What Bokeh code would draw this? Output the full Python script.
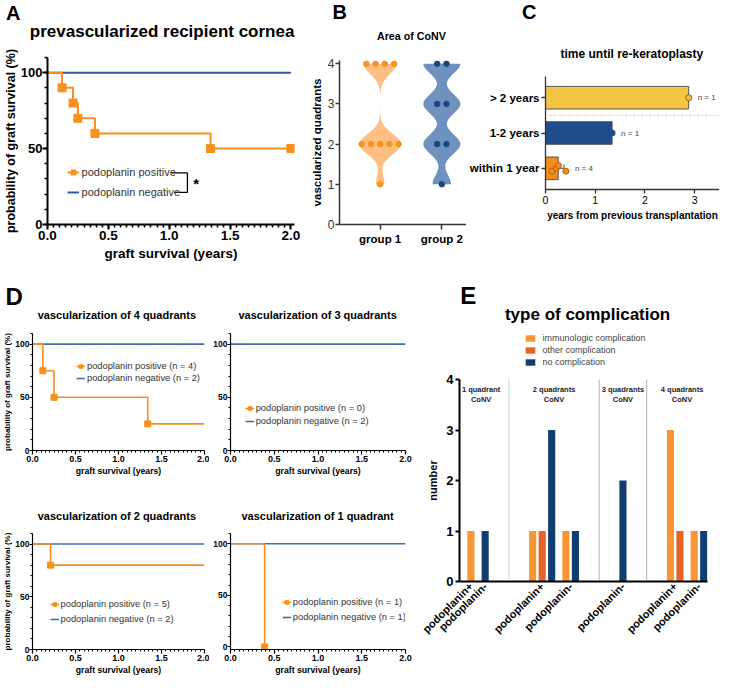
import numpy as np
from bokeh.plotting import figure
from bokeh.models import (Range1d, Label, Legend, LegendItem, Span, FixedTicker,
                          SingleIntervalTicker, ColumnDataSource, Whisker, TeeHead,
                          PrintfTickFormatter)
from bokeh.layouts import row, column
from bokeh.embed import file_html
from bokeh.resources import INLINE
from bokeh.core.properties import value

FONT = "Liberation Sans"
NAN = float("nan")

# ---------------- data ----------------
A_title = "prevascularized recipient cornea"
A_series = ["podoplanin positive", "podoplanin negative"]
A_pos_time = [0.0, 0.12, 0.21, 0.25, 0.39, 1.34, 2.0]
A_pos_surv = [100, 90, 80, 70, 60, 50, 50]
A_pos_censor = [2.0]
A_neg_time = [0.0, 2.0]
A_neg_surv = [100, 100]

B_title = "Area of CoNV"
B_groups = ["group 1", "group 2"]
B_group1 = [4, 4, 4, 4, 2, 2, 2, 2, 2, 1]
B_group2 = [4, 4, 3, 3, 2, 2, 1]

C_title = "time until re-keratoplasty"
C_categories = ["within 1 year", "1-2 years", "> 2 years"]
C_within_1_year = [0.13, 0.22, 0.26, 0.41]
C_1_to_2_years = [1.34]
C_over_2_years = [2.88]

D_titles = ["vascularization of 4 quadrants", "vascularization of 3 quadrants",
            "vascularization of 2 quadrants", "vascularization of 1 quadrant"]
D_pos_time = [[0.0, 0.12, 0.25, 1.34, 2.0], [], [0.0, 0.21, 2.0], [0.0, 0.39]]
D_pos_surv = [[100, 75, 50, 25, 25], [], [100, 80, 80], [100, 0]]
D_neg_time = [[0.0, 2.0], [0.0, 2.0], [0.0, 2.0], [0.0, 2.0]]
D_neg_surv = [[100, 100], [100, 100], [100, 100], [100, 100]]
D_pos_n = [4, 0, 5, 1]
D_neg_n = [2, 2, 2, 1]

E_title = "type of complication"
E_series = ["immunologic complication", "other complication", "no complication"]
E_quadrants = ["1 quadrant\nCoNV", "2 quadrants\nCoNV", "3 quadrants\nCoNV", "4 quadrants\nCoNV"]
E_group_quadrant = [0, 0, 1, 1, 2, 3, 3]
E_group_label = ["podoplanin+", "podoplanin-", "podoplanin+", "podoplanin-",
                 "podoplanin-", "podoplanin+", "podoplanin-"]
E_immunologic = [1, 0, 1, 1, 0, 3, 1]
E_other = [0, 0, 1, 0, 0, 1, 0]
E_none = [0, 1, 3, 1, 2, 0, 1]

# ---------------- styles / helpers ----------------
ORANGE = "#F7901E"
BLUE_A = "#2C5AA0"
BLUE_D = "#3F6DB2"
SX = 719 / 735
SY = 677 / 693


def box(l, t, r, b, fl, ft, fr, fb):
    return dict(width=round(r * SX) - round(l * SX), height=round(b * SY) - round(t * SY),
                min_border_left=round(fl * SX) - round(l * SX),
                min_border_right=round(r * SX) - round(fr * SX),
                min_border_top=round(ft * SY) - round(t * SY),
                min_border_bottom=round(b * SY) - round(fb * SY))


def make_fig(xr, yr, geo):
    p = figure(x_range=xr, y_range=yr, output_backend="svg", toolbar_location=None, **geo)
    p.outline_line_color = None
    p.xgrid.visible = False
    p.ygrid.visible = False
    p.background_fill_color = "white"
    p.border_fill_color = "white"
    return p


def header(l, t, r, b):
    W = round(r * SX) - round(l * SX)
    H = round(b * SY) - round(t * SY)
    h = figure(width=W, height=H, x_range=Range1d(0, W), y_range=Range1d(H, 0),
               x_axis_location=None, y_axis_location=None, toolbar_location=None,
               output_backend="svg", min_border=0)
    h.outline_line_color = None
    h.grid.visible = False
    h.background_fill_color = "white"
    h.border_fill_color = "white"
    return h


def htext(h, ref, X, Y, text, size, bold=True, align="center", color="black"):
    l, t = ref
    h.add_layout(Label(x=(X - l) * SX, y=(Y - t) * SY, text=text, text_align=align,
                       text_baseline="middle", text_font=FONT, text_font_size=f"{size}px",
                       text_font_style="bold" if bold else "normal", text_color=color))


def style_axis(ax, lw, color, tick_out, minor_out, lab_size, lab_bold, title_size=None,
               standoff=2, title_standoff=3):
    ax.axis_line_width = lw
    ax.axis_line_color = color
    ax.major_tick_line_color = color
    ax.major_tick_line_width = lw
    ax.major_tick_in = 0
    ax.major_tick_out = tick_out
    ax.minor_tick_line_color = color if minor_out else None
    ax.minor_tick_line_width = max(1, lw * 0.8)
    ax.minor_tick_in = 0
    ax.minor_tick_out = minor_out
    ax.major_label_text_font = FONT
    ax.major_label_text_font_size = f"{lab_size}px"
    ax.major_label_text_font_style = "bold" if lab_bold else "normal"
    ax.major_label_text_color = "black"
    ax.major_label_standoff = standoff
    ax.axis_label_text_font = FONT
    ax.axis_label_text_font_style = "bold"
    ax.axis_label_text_color = "black"
    ax.axis_label_standoff = title_standoff
    if title_size:
        ax.axis_label_text_font_size = f"{title_size}px"


def frame_text(p, frame_lb, X, Y, text, size, bold=True, color="black"):
    fl, fb = frame_lb
    p.add_layout(Label(x=(X - fl) * SX, y=(fb - Y) * SY, x_units="screen", y_units="screen",
                       text=text, text_align="center", text_baseline="middle",
                       text_font=FONT, text_font_size=f"{size}px",
                       text_font_style="bold" if bold else "normal", text_color=color))


def legend_at(p, items, frame_lb, X, Ybottom, size, glyph_w, item_h, spacing, standoff,
              glyph_h=None, color="#333"):
    fl, fb = frame_lb
    lg = Legend(items=items, location=((X - fl) * SX, (fb - Ybottom) * SY),
                orientation="vertical", padding=0, margin=0, spacing=int(round(spacing)),
                glyph_width=int(glyph_w), glyph_height=int(glyph_h or item_h),
                label_height=int(item_h), label_standoff=int(standoff),
                label_text_font=FONT, label_text_font_size=f"{size}px",
                label_text_color=color, background_fill_alpha=0, border_line_alpha=0)
    p.add_layout(lg)
    return lg


def km_marks(times, surv, censor=()):
    mx, my = [], []
    for i in range(1, len(times)):
        if surv[i] != surv[i - 1]:
            mx.append(times[i]); my.append(surv[i])
    for c in censor:
        idx = max(i for i, t in enumerate(times) if t <= c)
        mx.append(c); my.append(surv[idx])
    return mx, my


def stack(h, p):
    # header wrapped on its own so that its frame is not aligned with the plot below
    return column(column(h), p)


# ---------------- panel A ----------------
hA = header(0, 0, 314, 46)
htext(hA, (0, 0), 13, 13, "A", 20)
htext(hA, (0, 0), 30, 32, A_title, 17, align="left")
frA = (45, 229)
fa = make_fig(Range1d(0, 2.03), Range1d(0, 110), box(0, 46, 314, 275, 45, 58, 301, 229))
style_axis(fa.xaxis[0], 2, "black", 5, 3, 13.5, True, 13.5, 1, 3)
style_axis(fa.yaxis[0], 2, "black", 5, 3, 13, True, 12.5, 0, 0)
fa.xaxis.ticker = SingleIntervalTicker(interval=0.5, num_minor_ticks=10)
fa.yaxis.ticker = SingleIntervalTicker(interval=50, num_minor_ticks=5)
fa.xaxis.formatter = PrintfTickFormatter(format="%.1f")
fa.xaxis.axis_label = "graft survival (years)"
fa.yaxis.axis_label = "probability of graft survival (%)"
rn = fa.line(A_neg_time, A_neg_surv, line_color=BLUE_A, line_width=2)
rp = fa.step(A_pos_time, A_pos_surv, mode="after", line_color=ORANGE, line_width=2)
mx, my = km_marks(A_pos_time, A_pos_surv, A_pos_censor)
rm = fa.scatter(mx, my, marker="square", size=8, fill_color=ORANGE, line_color=ORANGE)
legend_at(fa, [LegendItem(label=A_series[0], renderers=[rp, rm]),
               LegendItem(label=A_series[1], renderers=[rn])],
          frA, 65, 203, 11, 12, 14, 6, 3)
fa.line([1.02, 1.15, 1.15, 1.04], [34, 34, 21.2, 21.2], line_color="black", line_width=1.3)
frame_text(fa, frA, 197, 187, "*", 15)

# ---------------- panel B ----------------
hB = header(314, 0, 476, 54)
htext(hB, (314, 0), 347, 12, "B", 20)
htext(hB, (314, 0), 385, 36, B_title, 10.7, align="left")
frB = (347, 229)
fb_ = make_fig(Range1d(0.34, 2.4), Range1d(0, 4.08), box(314, 54, 476, 275, 347, 61, 476, 229))
style_axis(fb_.xaxis[0], 1.5, "#333", 5, 0, 11.5, True, None, 3, 3)
style_axis(fb_.yaxis[0], 1.5, "#333", 4, 0, 12, False, 11.5, 1, 2)
fb_.yaxis[0].major_label_text_color = "#333"
fb_.xaxis.ticker = FixedTicker(ticks=[1, 2])
fb_.xaxis.major_label_overrides = {1: B_groups[0], 2: B_groups[1]}
fb_.yaxis.ticker = FixedTicker(ticks=[0, 1, 2, 3, 4])
fb_.yaxis.axis_label = "vascularized quadrants"


def violin(vals, center, halfw, bw=0.25, n=120):
    v = np.array(vals, float)
    ys = np.linspace(v.min(), v.max(), n)
    d = np.exp(-0.5 * ((ys[:, None] - v[None, :]) / bw) ** 2).sum(1)
    d = d / d.max() * halfw
    return (list(np.concatenate([center - d, (center + d)[::-1]])),
            list(np.concatenate([ys, ys[::-1]])))


def dots(vals, center, step):
    xs, ys = [], []
    for v in sorted(set(vals), reverse=True):
        k = vals.count(v)
        for i in range(k):
            xs.append(center + (i - (k - 1) / 2) * step)
            ys.append(v)
    return xs, ys


for k, (vals, fill, dc, hw) in enumerate([(B_group1, "#FDBE82", "#F7931E", 0.34),
                                          (B_group2, "#6E91BE", "#17457E", 0.30)]):
    vx, vy = violin(vals, k + 1, hw)
    fb_.patch(vx, vy, fill_color=fill, line_color=None)
    dx, dy = dots(vals, k + 1, 0.15)
    fb_.scatter(dx, dy, size=5.5, fill_color=dc, line_color=dc)

# ---------------- panel C ----------------
hC = header(476, 0, 735, 70)
htext(hC, (476, 0), 540, 12, "C", 20)
htext(hC, (476, 0), 645, 55, C_title, 12)
frC = (554, 193)
fc = make_fig(Range1d(0, 3.5), Range1d(0.4, 3.6), box(476, 70, 735, 275, 554, 78, 735, 193))
style_axis(fc.xaxis[0], 1.3, "#333", 4, 0, 10.5, False, 10, 2, 3)
style_axis(fc.yaxis[0], 1.3, "#333", 4, 0, 11.5, True, None, 2, 3)
fc.xaxis.ticker = FixedTicker(ticks=[0, 1, 2, 3])
fc.yaxis.ticker = FixedTicker(ticks=[1, 2, 3])
fc.yaxis.major_label_overrides = {i + 1: c for i, c in enumerate(C_categories)}
fc.xaxis.axis_label = "years from previous transplantation"
C_vals = [C_within_1_year, C_1_to_2_years, C_over_2_years]
C_fill = ["#F58C1E", "#1F4C8A", "#F5C442"]
C_dot_line = ["#B85F12", "#1F4C8A", "#7A6420"]
means = [float(np.mean(v)) for v in C_vals]
fc.hbar(y=[1, 2, 3], left=0, right=means, height=0.64, fill_color=C_fill,
        line_color="#555", line_width=1)
fc.add_layout(Span(location=2.5, dimension="width", line_color="#F2C94C",
                   line_dash="2 2", line_width=1))
sd = float(np.std(C_within_1_year, ddof=1))
wsrc = ColumnDataSource(dict(base=[1], lower=[means[0] - sd], upper=[means[0] + sd]))
fc.add_layout(Whisker(source=wsrc, base="base", lower="lower", upper="upper",
                      dimension="width", line_color="#555", line_width=1,
                      lower_head=TeeHead(size=8, line_color="#555", line_width=1),
                      upper_head=TeeHead(size=8, line_color="#555", line_width=1)))
for i, vals in enumerate(C_vals):
    ys = [i + 1 + (0.08 * ((j % 3) - 1) if len(vals) > 1 else 0) for j in range(len(vals))]
    fc.scatter(vals, ys, size=6, fill_color=C_fill[i], line_color=C_dot_line[i], line_width=1)
fc.text(x=[max(v) for v in C_vals], y=[1, 2, 3], text=[f"n = {len(v)}" for v in C_vals],
        x_offset=9, text_baseline="middle", text_font=value(FONT), text_font_size="8px",
        text_color="#444")

# ---------------- panel D ----------------
D_geo = [((0, 275, 214, 490), (29, 341, 209, 461)),
         ((214, 275, 421, 490), (235, 341, 414, 461)),
         ((0, 490, 214, 693), (29, 546, 209, 665)),
         ((214, 490, 421, 693), (235, 546, 414, 665))]
D_leg = [(74, 393, 0), (250, 437, 1), (47, 640, 3), (288, 638, 3)]
D_title_y = [322, 322, 527, 527]
D_cells = []
for i in range(4):
    (l, t, r, b), (fl, ft, fr, fbm) = D_geo[i]
    hb = ft - 6
    hD = header(l, t, r, hb)
    htext(hD, (l, t), (fl + fr) / 2, D_title_y[i], D_titles[i], 11)
    if i == 0:
        htext(hD, (l, t), 14, 303, "D", 24)
    ystart = -2.5 if (D_pos_surv[i] and min(D_pos_surv[i]) == 0) else 0
    p = make_fig(Range1d(0, 2.0), Range1d(ystart, 110), box(l, hb, r, b, fl, ft, fr, fbm))
    style_axis(p.xaxis[0], 1.2, "black", 4, 2, 9, True, 8.7, 1, 1)
    style_axis(p.yaxis[0], 1.2, "black", 3, 2, 8.5, True, 8, 0, 0)
    p.xaxis.ticker = SingleIntervalTicker(interval=0.5, num_minor_ticks=10)
    p.yaxis.ticker = SingleIntervalTicker(interval=50, num_minor_ticks=5)
    p.xaxis.formatter = PrintfTickFormatter(format="%.1f")
    p.xaxis.axis_label = "graft survival (years)"
    if i % 2 == 0:
        p.yaxis.axis_label = "probability of graft survival (%)"
    rn = p.line(D_neg_time[i], D_neg_surv[i], line_color=BLUE_D, line_width=1.6)
    pt = D_pos_time[i] or [NAN]
    ps = D_pos_surv[i] or [NAN]
    rp = p.step(pt, ps, mode="after", line_color=ORANGE, line_width=1.6)
    mx, my = km_marks(D_pos_time[i], D_pos_surv[i])
    rm = p.scatter(mx or [NAN], my or [NAN], marker="square", size=6,
                   fill_color=ORANGE, line_color=ORANGE)
    fr_lb = (fl, fbm)
    X, Yb, sp = D_leg[i]
    legend_at(p, [LegendItem(label=f"podoplanin positive (n = {D_pos_n[i]})", renderers=[rp, rm]),
                  LegendItem(label=f"podoplanin negative (n = {D_neg_n[i]})", renderers=[rn])],
              fr_lb, X, Yb, 9.3, 9, 12, sp, 2)
    D_cells.append(stack(hD, p))

# ---------------- panel E ----------------
E_vals = [E_immunologic, E_other, E_none]
E_colors = ["#F79632", "#E46428", "#113D70"]
bars = {s: ([], []) for s in range(3)}
group_ticks = []
quad_bars = {q: [] for q in range(len(E_quadrants))}
x = None
prev_q = None
for g, q in enumerate(E_group_quadrant):
    in_group = []
    for s in range(3):
        v = E_vals[s][g]
        if v <= 0:
            continue
        if x is None:
            x = 12
        elif not in_group:
            x += 15 if q == prev_q else 50
        else:
            x += 10
        bars[s][0].append(x); bars[s][1].append(v)
        in_group.append(x); quad_bars[q].append(x)
    group_ticks.append(sum(in_group) // len(in_group))
    prev_q = q
x_end = x + 4
qs = sorted(quad_bars)
seps = [(max(quad_bars[a]) + min(quad_bars[b])) / 2 for a, b in zip(qs[:-1], qs[1:])]
edges = [0] + seps + [x_end]
q_centers = [((min(quad_bars[q]) + max(quad_bars[q])) / 2 + (edges[k] + edges[k + 1]) / 2) / 2
             for k, q in enumerate(qs)]

E_hb = 379
hE = header(421, 275, 735, E_hb)
htext(hE, (421, 275), 478, 302, "E", 24)
htext(hE, (421, 275), 600, 321, E_title, 17)
dummies = [hE.vbar(x=[NAN], top=[NAN], width=1, fill_color=c, line_color=None) for c in E_colors]
legend_at(hE, [LegendItem(label=E_series[s], renderers=[dummies[s]]) for s in range(3)],
          (421, E_hb), 535, 375.5, 9, 12, 10, 2, 7, glyph_h=8, color="#444")

frE = (469, 595)
fe = make_fig(Range1d(0, x_end), Range1d(0, 4), box(421, E_hb, 735, 693, 469, 388, 723, 595))
style_axis(fe.xaxis[0], 2, "black", 0, 0, 11, True, None, 3, 3)
style_axis(fe.yaxis[0], 2, "black", 4, 0, 13, True, 11, 2, 4)
fe.xaxis.major_tick_line_color = None
fe.xaxis.ticker = FixedTicker(ticks=group_ticks)
fe.xaxis.major_label_overrides = {t: lab for t, lab in zip(group_ticks, E_group_label)}
fe.xaxis.major_label_orientation = np.pi / 4
fe.yaxis.ticker = FixedTicker(ticks=[0, 1, 2, 3, 4])
fe.yaxis.axis_label = "number"
for s in range(3):
    fe.vbar(x=bars[s][0], top=bars[s][1], width=7.5, bottom=0,
            fill_color=E_colors[s], line_color=None)
for k, loc in enumerate(seps):
    fe.add_layout(Span(location=loc, dimension="height", line_color="#999" if k == 0 else "#666",
                       line_dash="1 1", line_width=1))
fe.text(x=q_centers, y=[3.7] * len(qs), text=E_quadrants, text_align="center",
        text_baseline="middle", text_font=value(FONT), text_font_style="bold",
        text_font_size="7.5px", text_line_height=1.15, text_color="#222")

layout = column(row(stack(hA, fa), stack(hB, fb_), stack(hC, fc)),
                row(column(row(D_cells[0], D_cells[1]), row(D_cells[2], D_cells[3])),
                    stack(hE, fe)))
open("out.html", "w").write(file_html(layout, INLINE))
